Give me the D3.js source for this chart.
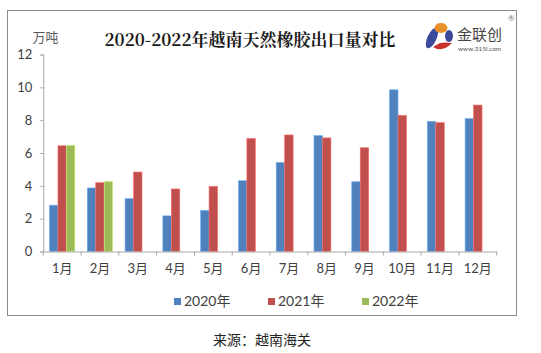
<!DOCTYPE html>
<html lang="zh">
<head>
<meta charset="utf-8">
<title>2020-2022年越南天然橡胶出口量对比</title>
<script src="https://cdn.jsdelivr.net/npm/d3@7"></script>
<style>
  body { margin: 0; background: #fff; }
  text { font-family: Lato, "Noto Sans CJK SC", sans-serif; }
</style>
</head>
<body>
<script>
var months = ["1月", "2月", "3月", "4月", "5月", "6月", "7月", "8月", "9月", "10月", "11月", "12月"];
var years = ["2020年", "2021年", "2022年"];
var v2020 = [2.82, 3.87, 3.22, 2.17, 2.50, 4.31, 5.42, 7.06, 4.25, 9.85, 7.93, 8.09];
var v2021 = [6.44, 4.19, 4.84, 3.81, 3.97, 6.88, 7.10, 6.92, 6.32, 8.29, 7.85, 8.92];
var v2022 = [6.47, 4.27, null, null, null, null, null, null, null, null, null, null];
var yTicks = [0, 2, 4, 6, 8, 10, 12];
var colors = ["#4F81BD", "#C0504D", "#9BBB59"];

var w = 541, h = 353;
var svg = d3.select("body").append("svg")
  .attr("width", w)
  .attr("height", h);

// frame
svg.append("rect")
  .attr("x", 7.5).attr("y", 10.5)
  .attr("width", 509).attr("height", 305)
  .attr("fill", "none")
  .attr("stroke", "#8c8c8c");

var x = d3.scaleBand().domain(months).range([43.3, 496.7]);
var xSub = d3.scaleBand().domain(years).range([6.2, x.bandwidth() - 6.2]);
var y = d3.scaleLinear().domain([0, 12]).range([251.5, 54.5]);

var rows = months.map(function(m, i) {
  return { month: m, vals: [v2020[i], v2021[i], v2022[i]] };
});

// bars
var groups = svg.selectAll("g.grp").data(rows)
  .enter().append("g")
  .attr("class", "grp")
  .attr("transform", function(d) { return "translate(" + x(d.month) + ",0)"; });

groups.selectAll("rect")
  .data(function(d) {
    return d.vals.map(function(v, j) { return { key: years[j], v: v, j: j }; })
      .filter(function(e) { return e.v != null; });
  })
  .enter().append("rect")
  .attr("x", function(d) { return xSub(d.key); })
  .attr("y", function(d) { return y(d.v); })
  .attr("width", xSub.bandwidth())
  .attr("height", function(d) { return y(0) - y(d.v); })
  .attr("fill", function(d) { return colors[d.j]; })
  .attr("stroke", function(d) { return d3.color(colors[d.j]).brighter(0.8); })
  .attr("stroke-width", 0.6);

// y axis
var yAxis = svg.append("g")
  .attr("transform", "translate(43.3,0)")
  .call(d3.axisLeft(y).tickValues(yTicks).tickSize(3).tickPadding(8));
yAxis.select(".domain").attr("stroke", "#a6a6a6");
yAxis.selectAll(".tick line").attr("stroke", "#a6a6a6");
yAxis.selectAll("text").attr("font-size", 13).attr("fill", "#404040");

// x axis
var xAxis = svg.append("g")
  .attr("transform", "translate(0," + y(0) + ")")
  .call(d3.axisBottom(x).tickSize(0).tickPadding(12));
xAxis.select(".domain").attr("stroke", "#a6a6a6");
xAxis.selectAll("text").attr("font-size", 13).attr("fill", "#404040");
xAxis.selectAll("line.sep").data(months.concat(["end"]))
  .enter().append("line")
  .attr("class", "sep")
  .attr("x1", function(d, i) { return i < months.length ? x(d) : x.range()[1]; })
  .attr("x2", function(d, i) { return i < months.length ? x(d) : x.range()[1]; })
  .attr("y1", 0).attr("y2", 4)
  .attr("stroke", "#a6a6a6");

// unit
svg.append("text")
  .attr("x", 45.5).attr("y", 42)
  .attr("text-anchor", "middle")
  .attr("font-size", 13)
  .attr("fill", "#595959")
  .text("万吨");

// title
svg.append("text")
  .attr("x", 250).attr("y", 46)
  .attr("text-anchor", "middle")
  .attr("font-size", 17)
  .attr("font-weight", "bold")
  .attr("fill", "#1a1a1a")
  .style("font-family", "'Noto Serif CJK SC', 'Noto Sans CJK SC', serif")
  .text("2020-2022年越南天然橡胶出口量对比");

// legend
var legend = svg.selectAll("g.leg").data(years)
  .enter().append("g")
  .attr("class", "leg")
  .attr("transform", function(d, i) { return "translate(" + (174 + i * 94) + ",298)"; });
legend.append("rect")
  .attr("width", 7).attr("height", 7)
  .attr("fill", function(d, i) { return colors[i]; });
legend.append("text")
  .attr("x", 10).attr("y", 8)
  .attr("font-size", 14)
  .attr("fill", "#404040")
  .text(function(d) { return d; });

// source
svg.append("text")
  .attr("x", 262).attr("y", 345)
  .attr("text-anchor", "middle")
  .attr("font-size", 14)
  .attr("fill", "#222")
  .text("来源：越南海关");

// logo
var logo = svg.append("g");
logo.append("ellipse")
  .attr("cx", 432).attr("cy", 38).attr("rx", 4.5).attr("ry", 11)
  .attr("transform", "rotate(25,432,38)")
  .attr("fill", "#3b4a9a");
logo.append("ellipse")
  .attr("cx", 441).attr("cy", 28).attr("rx", 6.5).attr("ry", 5)
  .attr("fill", "#e8902a");
logo.append("path")
  .attr("d", "M433,47 Q442,53 452,43 Q446,42 440,43 Z")
  .attr("fill", "#c8322c");
logo.append("ellipse")
  .attr("cx", 449).attr("cy", 36).attr("rx", 4).attr("ry", 6)
  .attr("fill", "#3b4a9a");
logo.append("text")
  .attr("x", 457).attr("y", 40)
  .attr("font-size", 15)
  .attr("fill", "#444")
  .style("font-family", "'Noto Sans CJK SC', sans-serif")
  .text("金联创");
logo.append("text")
  .attr("x", 458).attr("y", 51)
  .attr("font-size", 6.5)
  .attr("fill", "#555")
  .text("www.315i.com");
logo.append("text")
  .attr("x", 508).attr("y", 21)
  .attr("font-size", 8)
  .attr("fill", "#777")
  .text("®");
</script>
</body>
</html>
